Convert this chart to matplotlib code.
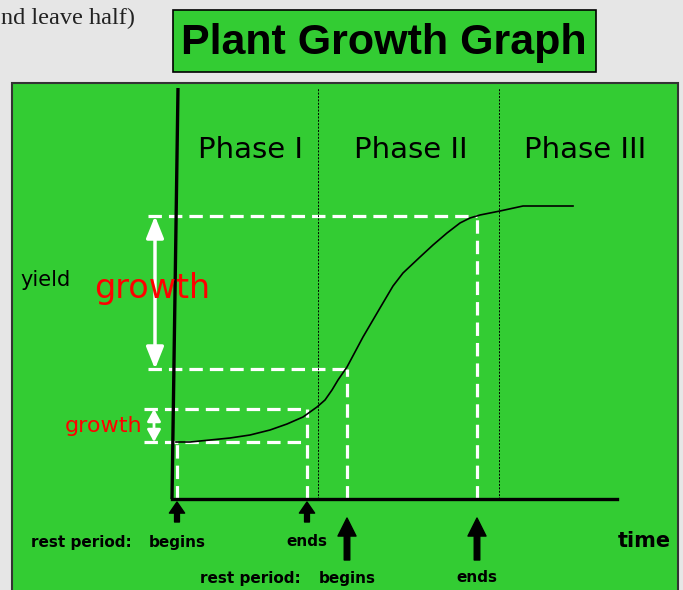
import matplotlib
matplotlib.use("Agg")
import matplotlib.pyplot as plt
from matplotlib.patches import Rectangle, FancyArrowPatch

W, H = 683, 590
GREEN = "#33cc33"

# growth curve (time, yield in arbitrary units)
time = [0.3, 1.7, 3.7, 5.7, 7.7, 9.7, 11.4, 13.0, 14.4, 15.2, 15.9, 16.5,
        17.4, 19.0, 20.7, 22.0, 23.0, 24.7, 26.0, 27.4, 28.7, 29.7, 30.7,
        32.7, 35.0, 37.0, 40.0]
yld = [5.7, 5.7, 5.9, 6.1, 6.4, 6.9, 7.5, 8.2, 9.2, 9.9, 10.9, 11.9,
       13.2, 16.2, 19.1, 21.3, 22.6, 24.2, 25.4, 26.6, 27.6, 28.1, 28.4,
       28.8, 29.3, 29.3, 29.3]

phase_names = ["Phase I", "Phase II", "Phase III"]
phase_bounds = [14.5, 32.6]
rest1 = [0.4, 13.4]      # first rest period: begins, ends
rest2 = [17.4, 30.4]     # second rest period: begins, ends
growth1 = [5.7, 9.0]     # yield at rest1 begins / ends
growth2 = [13.0, 28.3]   # yield at rest2 begins / ends
t_max, y_max = 44.4, 41.1


def fx(px):
    return px / W


def fy(py):
    return 1 - py / H


fig = plt.figure(figsize=(W / 100, H / 100), dpi=100)
fig.patch.set_facecolor("#e6e6e6")

# boxes (behind the axes)
fig.patches.append(Rectangle((fx(12), fy(600)), fx(678) - fx(12), fy(83) - fy(600),
                             transform=fig.transFigure, fc=GREEN, ec="#333333", lw=1.5,
                             zorder=-5))
fig.patches.append(Rectangle((fx(173), fy(72)), fx(596) - fx(173), fy(10) - fy(72),
                             transform=fig.transFigure, fc=GREEN, ec="black", lw=1.2,
                             zorder=-5))
fig.text(fx(1), fy(18), "nd leave half)", family="Liberation Serif", fontsize=17.5,
         ha="left", va="center", color="#222222")
fig.text(fx(384), fy(43), "Plant Growth Graph", family="Liberation Sans",
         fontweight="bold", fontsize=31, ha="center", va="center")

ax = fig.add_axes([fx(173), fy(499), fx(617) - fx(173), fy(88) - fy(499)])
ax.set_xlim(0, t_max)
ax.set_ylim(0, y_max)
ax.axis("off")

dash = dict(color="white", lw=2.3, ls=(0, (4.2, 2.2)), clip_on=False, zorder=2)
left_t = -2.9
# white dashed guide lines
ax.plot([left_t, rest1[1]], [growth1[0], growth1[0]], **dash)
ax.plot([left_t, rest1[1]], [growth1[1], growth1[1]], **dash)
ax.plot([rest1[0], rest1[0]], [0, growth1[0]], **dash)
ax.plot([rest1[1], rest1[1]], [0, growth1[1]], **dash)
ax.plot([left_t + 0.4, rest2[0]], [growth2[0], growth2[0]], **dash)
ax.plot([left_t + 0.4, rest2[1]], [growth2[1], growth2[1]], **dash)
ax.plot([rest2[0], rest2[0]], [0, growth2[0]], **dash)
ax.plot([rest2[1], rest2[1]], [0, growth2[1]], **dash)

# phase separators
for b in phase_bounds:
    ax.plot([b, b], [0, y_max], color="black", lw=0.7, ls=(0, (2, 1.5)), zorder=3)

# curve
ax.plot(time, yld, color="black", lw=1.2, zorder=4, solid_joinstyle="round")

# axes lines
ax.plot([-0.1, 0.5], [0, y_max], color="black", lw=2.4, clip_on=False, zorder=5,
        solid_capstyle="butt")
ax.plot([-0.1, t_max], [0, 0], color="black", lw=2.4, clip_on=False, zorder=5)

# phase labels
for name, xc in zip(phase_names, [7.7, 23.8, 41.2]):
    ax.text(xc, 34.9, name, fontsize=21, ha="center", va="center")

# white double arrows
ax.add_patch(FancyArrowPatch((-1.8, growth2[0]), (-1.8, growth2[1]),
                             arrowstyle="<|-|>,head_length=0.55,head_width=0.22",
                             mutation_scale=24, color="white", lw=2.5,
                             shrinkA=0, shrinkB=0, clip_on=False, zorder=6))
ax.add_patch(FancyArrowPatch((-1.9, growth1[0]), (-1.9, growth1[1]),
                             arrowstyle="<|-|>,head_length=0.45,head_width=0.25",
                             mutation_scale=16, color="white", lw=2,
                             shrinkA=0, shrinkB=0, clip_on=False, zorder=6))

fig.text(fx(46), fy(280), "yield", fontsize=15, ha="center", va="center")
fig.text(fx(152), fy(289), "growth", fontsize=24, color="red", ha="center", va="center", zorder=7)
fig.text(fx(104), fy(426), "growth", fontsize=16, color="red", ha="center", va="center")

# black arrows under the time axis
for t in rest1:
    ax.annotate("", xy=(t, -0.3), xytext=(t, -2.3), annotation_clip=False,
                arrowprops=dict(fc="black", ec="black", width=3.5, headwidth=11,
                                headlength=8, shrink=0))
for t in rest2:
    ax.annotate("", xy=(t, -1.9), xytext=(t, -6.1), annotation_clip=False,
                arrowprops=dict(fc="black", ec="black", width=4, headwidth=13,
                                headlength=13, shrink=0))

lab = dict(fontsize=11, fontweight="bold", ha="center", va="center")
fig.text(fx(81), fy(542), "rest period:", **lab)
ax.text(rest1[0], -4.3, "begins", **lab)
ax.text(rest1[1], -4.3, "ends", **lab)
fig.text(fx(250), fy(578), "rest period:", **lab)
ax.text(rest2[0], -7.9, "begins", **lab)
ax.text(rest2[1], -7.9, "ends", **lab)
fig.text(fx(644), fy(541), "time", fontsize=15, fontweight="bold", ha="center", va="center")

fig.savefig("out.png", dpi=100, facecolor=fig.get_facecolor())
